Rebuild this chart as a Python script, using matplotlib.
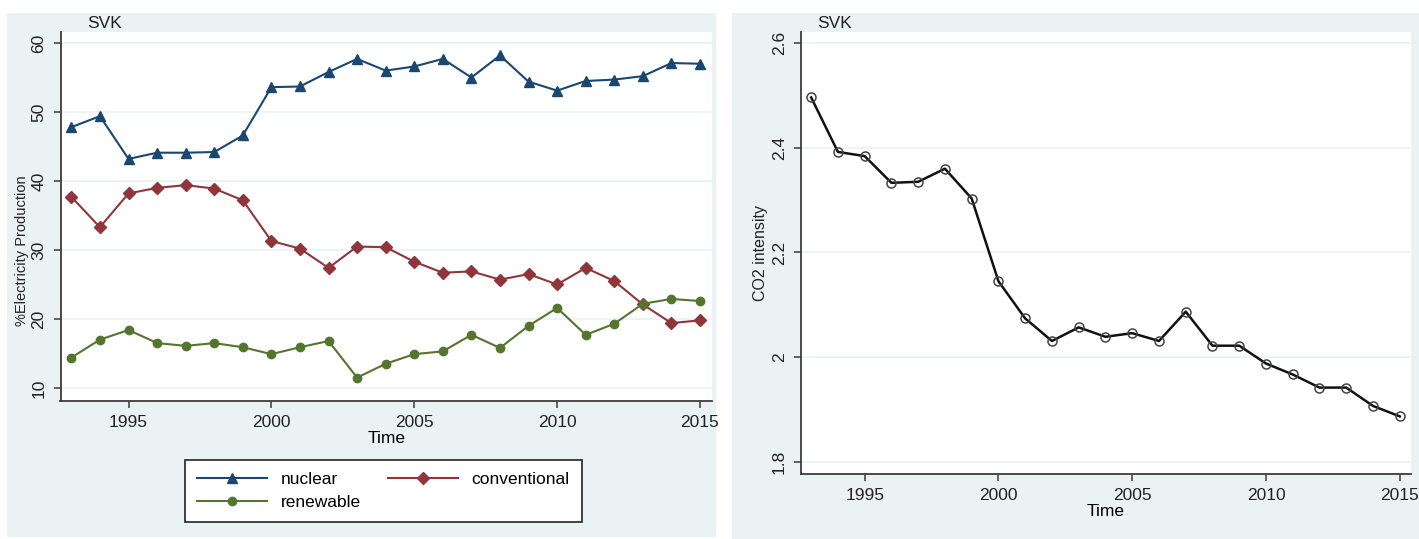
import numpy as np
import matplotlib
matplotlib.use("Agg")
import matplotlib.pyplot as plt
from matplotlib.patches import Rectangle

plt.rcParams['font.family'] = ['Liberation Sans', 'DejaVu Sans']

# data
years = list(range(1993, 2016))
nuclear = [47.8, 49.4, 43.2, 44.1, 44.1, 44.2, 46.6, 53.6, 53.7, 55.8, 57.7, 56.0,
           56.6, 57.7, 55.0, 58.2, 54.4, 53.1, 54.5, 54.7, 55.2, 57.1, 57.0]
conventional = [37.7, 33.3, 38.2, 39.0, 39.4, 38.9, 37.2, 31.3, 30.2, 27.4, 30.5, 30.4,
                28.3, 26.7, 26.9, 25.7, 26.5, 25.0, 27.4, 25.5, 22.1, 19.4, 19.8]
renewable = [14.4, 17.0, 18.4, 16.5, 16.1, 16.5, 15.9, 14.9, 15.9, 16.8, 11.5, 13.5,
             14.9, 15.3, 17.7, 15.8, 19.0, 21.6, 17.7, 19.3, 22.2, 22.9, 22.6]
co2 = [2.496, 2.392, 2.384, 2.333, 2.335, 2.360, 2.303, 2.145, 2.074, 2.031, 2.057, 2.039,
       2.046, 2.031, 2.087, 2.022, 2.022, 1.988, 1.967, 1.942, 1.942, 1.907, 1.887]
country = "SVK"
x_ticks = [1995, 2000, 2005, 2010, 2015]
left_yticks = [10, 20, 30, 40, 50, 60]
right_yticks = [1.8, 2.0, 2.2, 2.4, 2.6]
right_ylabels = ["1.8", "2", "2.2", "2.4", "2.6"]

W, H = 1419, 539
panel_bg = "#eaf2f3"
navy = "#1a476f"
maroon = "#90353b"
green = "#55752f"
axis_col = "#3c3c3c"

fig = plt.figure(figsize=(W / 100, H / 100), dpi=100)
fig.patch.set_facecolor("white")


def px_rect(x0, y0, x1, y1):
    """pixel box (top-left origin) -> figure fraction [l, b, w, h]"""
    return [x0 / W, (H - y1) / H, (x1 - x0) / W, (y1 - y0) / H]


# grey graph regions behind each panel
for box in [(7, 13, 716, 537), (732, 13, 1419, 539)]:
    l, b, w, h = px_rect(*box)
    fig.patches.append(Rectangle((l, b), w, h, transform=fig.transFigure,
                                 facecolor=panel_bg, edgecolor="none", zorder=-5))


def style_axes(ax, ylim, yticks, ylabels):
    ax.set_zorder(2)
    ax.set_facecolor("white")
    ax.set_xlim(1992.62, 2015.42)
    ax.set_ylim(*ylim)
    for s in ["top", "right"]:
        ax.spines[s].set_visible(False)
    for s in ["left", "bottom"]:
        ax.spines[s].set_color(axis_col)
        ax.spines[s].set_linewidth(1.3)
    ax.set_xticks(x_ticks)
    ax.set_xticklabels([str(t) for t in x_ticks], fontsize=12.5, color="#222222")
    ax.set_yticks(yticks)
    ax.set_yticklabels(ylabels, fontsize=12.5, color="#222222", rotation=90, va="center")
    ax.tick_params(axis="both", direction="out", length=5, width=1.1, color=axis_col, pad=5)
    ax.grid(axis="y", color=panel_bg, linewidth=1.2)
    ax.set_axisbelow(True)


# left panel: electricity production shares
ax1 = fig.add_axes(px_rect(60.5, 32, 712, 400.7))
style_axes(ax1, (8.15, 61.6), left_yticks, [str(t) for t in left_yticks])
l1, = ax1.plot(years, nuclear, color=navy, lw=1.5, marker="^", ms=7.5, label="nuclear")
l2, = ax1.plot(years, conventional, color=maroon, lw=1.5, marker="D", ms=6.5, label="conventional")
l3, = ax1.plot(years, renewable, color=green, lw=1.5, marker="o", ms=6, label="renewable")
ax1.set_xlabel("Time", fontsize=12.5, labelpad=1)
fig.text(22 / W, (H - 251) / H, "%Electricity Production", rotation=90,
         ha="center", va="center", fontsize=10.5, color="#222222")
fig.text(87 / W, (H - 24) / H, country, ha="left", va="center", fontsize=12.5, color="#222222")

leg = fig.legend([l1, l3, l2], ["nuclear", "renewable", "conventional"], ncol=2,
                 loc="center", bbox_to_anchor=(383.5 / W, (H - 491) / H),
                 fontsize=12.5, handlelength=4.0, columnspacing=1.6,
                 frameon=True, fancybox=False, framealpha=1,
                 borderpad=0.7, labelspacing=0.45)
leg.get_frame().set_edgecolor("#222222")
leg.get_frame().set_linewidth(1.2)
leg.get_frame().set_facecolor("white")
leg.set_zorder(5)

# right panel: CO2 intensity
ax2 = fig.add_axes(px_rect(801, 32, 1411, 474))
style_axes(ax2, (1.777, 2.621), right_yticks, right_ylabels)
ax2.plot(years, co2, color="#111111", lw=1.8, marker="o", ms=6.5,
         markerfacecolor="none", markeredgecolor="#444444", markeredgewidth=1.1)
ax2.set_xlabel("Time", fontsize=12.5, labelpad=1)
fig.text(760 / W, (H - 253) / H, "CO2 intensity", rotation=90,
         ha="center", va="center", fontsize=11.5, color="#222222")
fig.text(817 / W, (H - 24) / H, country, ha="left", va="center", fontsize=12.5, color="#222222")

fig.savefig("out.png", dpi=100, facecolor=fig.get_facecolor())
